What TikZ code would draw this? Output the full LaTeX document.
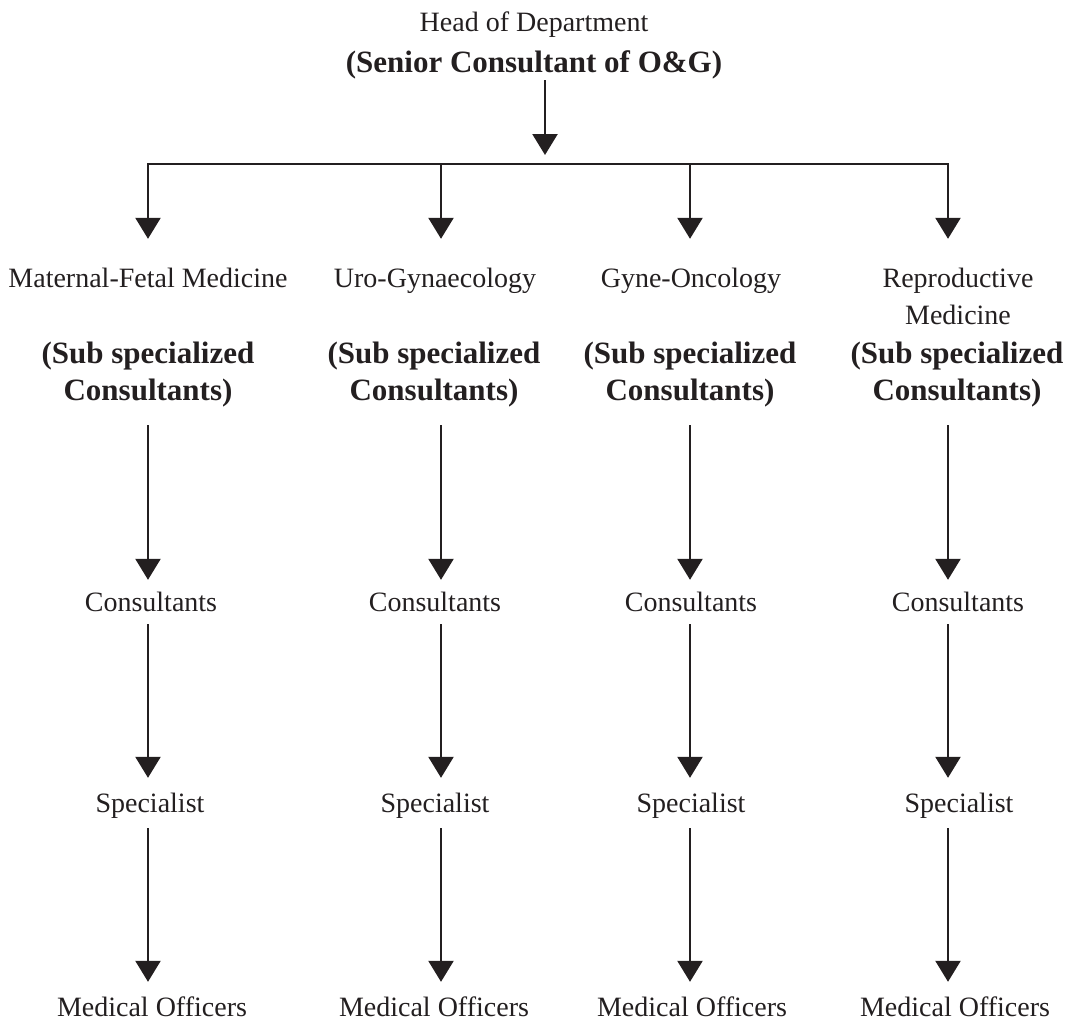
\documentclass[tikz,border=0pt]{standalone}
\usepackage{fontspec}
\setmainfont{Liberation Serif}
\usetikzlibrary{arrows.meta}
\definecolor{ink}{HTML}{231F20}
\begin{document}
\begin{tikzpicture}[x=1pt,y=-1pt,
  reg/.style={inner sep=0pt, anchor=base, text height=20pt, text depth=6pt, font=\fontsize{28}{34}\selectfont, text=ink},
  bld/.style={inner sep=0pt, anchor=base, text height=21pt, text depth=6pt, font=\fontsize{31}{37}\selectfont\bfseries, text=ink},
  arr/.style={draw=ink, line width=2.4pt, -{Triangle[width=25pt,length=21pt]}},
  busline/.style={draw=ink, line width=2.4pt, line cap=rect}]
\useasboundingbox (0,0) rectangle (1081,1020);

\node[reg] (head) at (534,31) {Head of Department};
\node[bld] (senior) at (534,72) {(Senior Consultant of O\&G)};

\coordinate (bus) at (545,164);
\coordinate (b1) at (148,164);
\coordinate (b2) at (441,164);
\coordinate (b3) at (690,164);
\coordinate (b4) at (948,164);

\node[reg] (t1) at (148,287) {Maternal-Fetal Medicine};
\node[reg] (t2) at (435,287) {Uro-Gynaecology};
\node[reg] (t3) at (691,287) {Gyne-Oncology};
\node[reg] (t4) at (958,287) {Reproductive};
\node[reg] (t4m) at (958,324) {Medicine};

\foreach \i/\x in {1/148,2/434,3/690,4/957}{
  \node[bld] (sa\i) at (\x,363) {(Sub specialized};
  \node[bld] (sb\i) at (\x,400) {Consultants)};
}
\foreach \i/\x in {1/151,2/435,3/691,4/958}{
  \node[reg] (c\i) at (\x,611) {Consultants};
}
\foreach \i/\x in {1/150,2/435,3/691,4/959}{
  \node[reg] (p\i) at (\x,812) {Specialist};
}
\foreach \i/\x in {1/152,2/434,3/692,4/955}{
  \node[reg] (m\i) at (\x,1016) {Medical Officers};
}

\draw[arr, shorten <=2pt, shorten >=9pt] (senior.south -| bus) -- (bus);
\draw[busline] (b1) -- (b4);
\foreach \i in {1,2,3,4}{
  \draw[arr, shorten >=28pt] (b\i) -- (b\i |- t\i.north);
  \draw[arr, shorten <=19pt, shorten >=11pt] (sb\i.south -| b\i) -- (c\i.north -| b\i);
  \draw[arr, shorten <=7pt, shorten >=14pt] (c\i.south -| b\i) -- (p\i.north -| b\i);
  \draw[arr, shorten <=10pt, shorten >=14pt] (p\i.south -| b\i) -- (m\i.north -| b\i);
}
\end{tikzpicture}
\end{document}
